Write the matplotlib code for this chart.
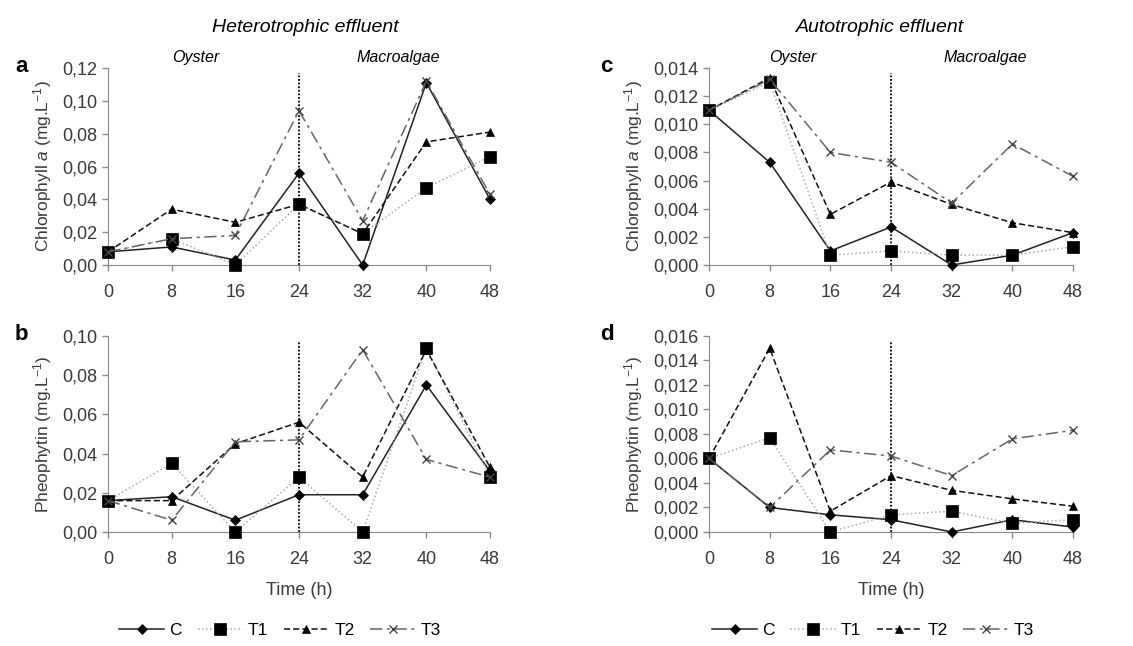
import numpy as np
import matplotlib
matplotlib.use('Agg')
import matplotlib.pyplot as plt
from matplotlib.ticker import FuncFormatter

plt.rcParams['font.family'] = ['Liberation Sans', 'DejaVu Sans']
plt.rcParams['mathtext.fontset'] = 'custom'
plt.rcParams['mathtext.rm'] = 'Liberation Sans'
plt.rcParams['mathtext.it'] = 'Liberation Sans:italic'

# Tiempos de muestreo (h)
tiempo = [0, 8, 16, 24, 32, 40, 48]
tratamientos = ['C', 'T1', 'T2', 'T3']

# a: clorofila, efluente heterotrófico
clor_het = {
    'C':  [0.008, 0.011, 0.003, 0.056, 0.000, 0.111, 0.040],
    'T1': [0.008, 0.016, 0.000, 0.037, 0.019, 0.047, 0.066],
    'T2': [0.008, 0.034, 0.026, 0.037, 0.019, 0.075, 0.081],
    'T3': [0.008, 0.016, 0.018, 0.094, 0.027, 0.112, 0.043],
}
# b: feofitina, efluente heterotrófico
feo_het = {
    'C':  [0.016, 0.018, 0.006, 0.019, 0.019, 0.075, 0.031],
    'T1': [0.016, 0.035, 0.000, 0.028, 0.000, 0.094, 0.028],
    'T2': [0.016, 0.016, 0.045, 0.056, 0.028, 0.093, 0.033],
    'T3': [0.016, 0.006, 0.046, 0.047, 0.093, 0.037, 0.028],
}
# c: clorofila, efluente autotrófico
clor_aut = {
    'C':  [0.0110, 0.0073, 0.0010, 0.0027, 0.0000, 0.0007, 0.0023],
    'T1': [0.0110, 0.0130, 0.0007, 0.0010, 0.0007, 0.0007, 0.0013],
    'T2': [0.0110, 0.0133, 0.0036, 0.0059, 0.0043, 0.0030, 0.0023],
    'T3': [0.0110, 0.0132, 0.0080, 0.0073, 0.0044, 0.0086, 0.0063],
}
# d: feofitina, efluente autotrófico
feo_aut = {
    'C':  [0.0060, 0.0020, 0.0014, 0.0010, 0.0000, 0.0010, 0.0004],
    'T1': [0.0060, 0.0077, 0.0000, 0.0014, 0.0017, 0.0007, 0.0010],
    'T2': [0.0060, 0.0150, 0.0017, 0.0046, 0.0034, 0.0027, 0.0021],
    'T3': [0.0060, 0.0020, 0.0067, 0.0062, 0.0046, 0.0076, 0.0083],
}

# Estilos de cada tratamiento
estilos = {
    'C':  dict(color='#222222', ls='-', marker='D', ms=5, mc='black', mew=0.5),
    'T1': dict(color='#aaaaaa', ls=':', marker='s', ms=8, mc='black', mew=0.5),
    'T2': dict(color='#111111', ls=(0, (4, 2)), marker='^', ms=6, mc='black', mew=0.5),
    'T3': dict(color='#666666', ls=(0, (8, 3, 2, 3)), marker='x', ms=6, mc='#444444', mew=1.0),
}

fig = plt.figure(figsize=(11.33, 6.46), dpi=100)

paneles = [
    ('a', clor_het, [0.0953, 0.5898, 0.3372, 0.3049], 0.12, 0.02, 2, True),
    ('b', feo_het,  [0.0953, 0.1765, 0.3372, 0.3034], 0.10, 0.02, 2, False),
    ('c', clor_aut, [0.6258, 0.5898, 0.3213, 0.3049], 0.014, 0.002, 3, True),
    ('d', feo_aut,  [0.6258, 0.1765, 0.3213, 0.3034], 0.016, 0.002, 3, False),
]

gris = '#8a8a8a'
for letra, datos, pos, ymax, paso, dec, arriba in paneles:
    ax = fig.add_axes(pos)
    for t in tratamientos:
        e = estilos[t]
        ax.plot(tiempo, datos[t], color=e['color'], ls=e['ls'], lw=1.1,
                marker=e['marker'], ms=e['ms'], mfc=e['mc'], mec=e['mc'],
                mew=e['mew'], clip_on=False, label=t, zorder=3)
    ax.vlines(24, 0, ymax * 0.975, colors='black', linestyles=(0, (1, 1)), lw=1.3, zorder=2)
    ax.set_xlim(0, 48)
    ax.set_ylim(0, ymax)
    ax.set_xticks(tiempo)
    ax.set_yticks(np.arange(0, ymax + paso / 2, paso))
    ax.yaxis.set_major_formatter(FuncFormatter(lambda v, p, d=dec: f'{v:.{d}f}'.replace('.', ',')))
    for s in ['top', 'right']:
        ax.spines[s].set_visible(False)
    for s in ['left', 'bottom']:
        ax.spines[s].set_color(gris)
    ax.tick_params(colors=gris, labelcolor='#3a3a3a', labelsize=13, length=4, width=1)
    ax.tick_params(axis='x', pad=10)
    if arriba:
        ax.set_ylabel('Chlorophyll $\\it{a}$ (mg.L$^{-1}$)', fontsize=12.5, color='#3a3a3a', labelpad=6)
        ax.text(0.23, 1.015, 'Oyster', transform=ax.transAxes, fontsize=11.5,
                style='italic', ha='center', va='bottom')
        ax.text(0.76, 1.015, 'Macroalgae', transform=ax.transAxes, fontsize=11.5,
                style='italic', ha='center', va='bottom')
    else:
        ax.set_ylabel('Pheophytin (mg.L$^{-1}$)', fontsize=12.5, color='#3a3a3a', labelpad=6)
        ax.set_xlabel('Time (h)', fontsize=13, color='#3a3a3a', labelpad=10)
        ax.legend(loc='upper center', bbox_to_anchor=(0.45, -0.40), ncol=4, frameon=False,
                  fontsize=12.5, handlelength=2.6, columnspacing=0.9, handletextpad=0.3,
                  borderpad=0.2)
    x_letra = 15 / 1133 if pos[0] < 0.5 else 600 / 1133
    fig.text(x_letra, pos[1] + pos[3] + 0.002, letra, fontsize=16, fontweight='bold',
             ha='left', va='center')

fig.text(305 / 1133, 1 - 28 / 646, 'Heterotrophic effluent', fontsize=14,
         style='italic', ha='center', va='center')
fig.text(880 / 1133, 1 - 28 / 646, 'Autotrophic effluent', fontsize=14,
         style='italic', ha='center', va='center')

plt.savefig('out.png', dpi=100)
